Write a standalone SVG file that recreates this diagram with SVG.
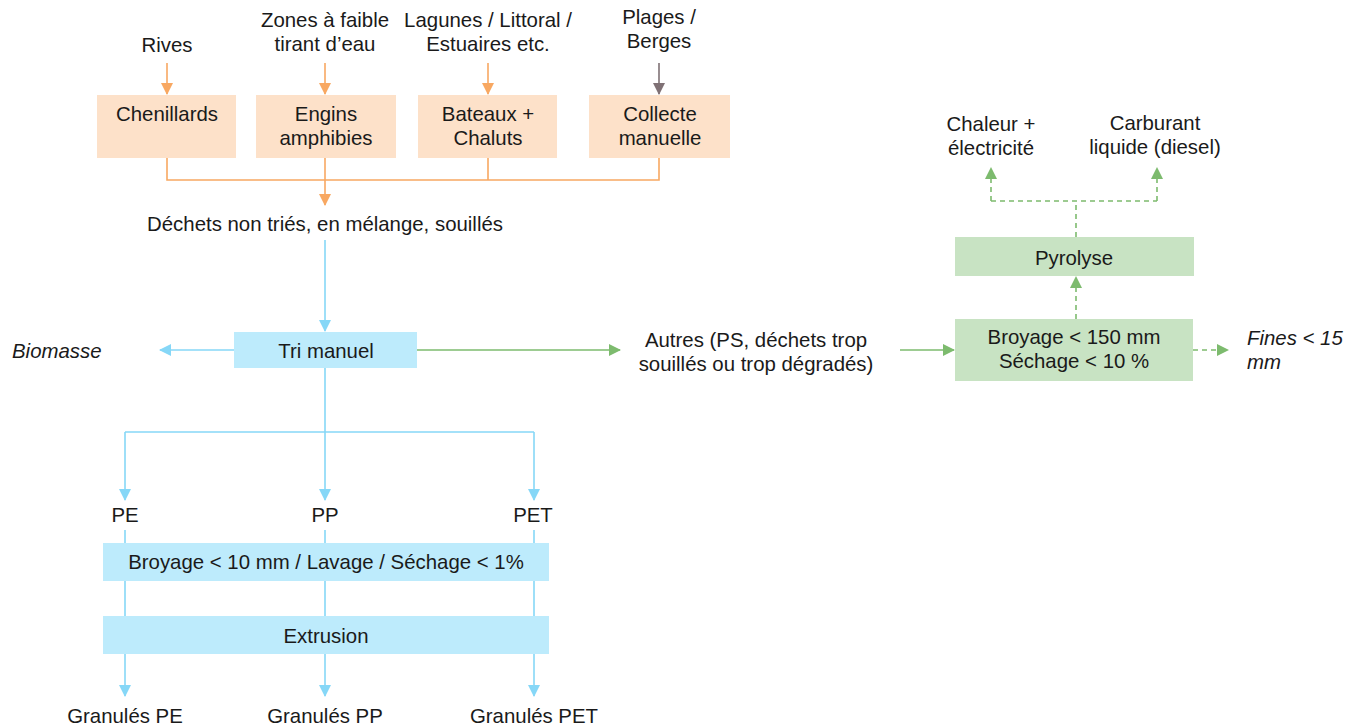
<svg xmlns="http://www.w3.org/2000/svg" width="1361" height="728" viewBox="0 0 1361 728">
<style>
text{font-family:"Liberation Sans",Arial,sans-serif;font-size:20.4px;fill:#1a1a1a;text-anchor:middle}
.it{font-style:italic;text-anchor:start}
.peach{fill:#fde1c9}
.blue{fill:#bdebfc}
.green{fill:#c8e3c3}
.lo{stroke:#f8a862;stroke-width:1.6;fill:none}
.lg{stroke:#7f7175;stroke-width:1.6;fill:none}
.lb{stroke:#86d7f7;stroke-width:1.6;fill:none}
.lgr{stroke:#7dbb6e;stroke-width:1.6;fill:none}
.ld{stroke:#7dbb6e;stroke-width:1.6;fill:none;stroke-dasharray:5 4}
</style>
<defs>
<marker id="ao" markerUnits="userSpaceOnUse" markerWidth="12" markerHeight="12" viewBox="0 0 12 12" refX="11" refY="6" orient="auto"><path d="M0,0 L12,6 L0,12 Z" fill="#f8a862"/></marker>
<marker id="ag" markerUnits="userSpaceOnUse" markerWidth="12" markerHeight="12" viewBox="0 0 12 12" refX="11" refY="6" orient="auto"><path d="M0,0 L12,6 L0,12 Z" fill="#7f7175"/></marker>
<marker id="ab" markerUnits="userSpaceOnUse" markerWidth="12" markerHeight="12" viewBox="0 0 12 12" refX="11" refY="6" orient="auto"><path d="M0,0 L12,6 L0,12 Z" fill="#86d7f7"/></marker>
<marker id="agr" markerUnits="userSpaceOnUse" markerWidth="12" markerHeight="12" viewBox="0 0 12 12" refX="11" refY="6" orient="auto"><path d="M0,0 L12,6 L0,12 Z" fill="#7dbb6e"/></marker>
</defs>

<g id="connectors">
<path class="lo" d="M167,63 V94" marker-end="url(#ao)"/>
<path class="lo" d="M325,63 V94" marker-end="url(#ao)"/>
<path class="lo" d="M488,63 V94" marker-end="url(#ao)"/>
<path class="lg" d="M659,63 V94" marker-end="url(#ag)"/>
<path class="lo" d="M167,158 V180 H659 V158 M488,158 V180"/>
<path class="lo" d="M325,158 V205" marker-end="url(#ao)"/>
<path class="lb" d="M325,240 V331" marker-end="url(#ab)"/>
<path class="lb" d="M234,350 H160" marker-end="url(#ab)"/>
<path class="lgr" d="M417,350 H620" marker-end="url(#agr)"/>
<path class="lgr" d="M900,350 H954" marker-end="url(#agr)"/>
<path class="ld" d="M1193,350 H1228" marker-end="url(#agr)"/>
<path class="ld" d="M1076,319 V277" marker-end="url(#agr)"/>
<path class="ld" d="M1076,237 V201 M991,201 H1157"/>
<path class="ld" d="M991,201 V168" marker-end="url(#agr)"/>
<path class="ld" d="M1157,201 V168" marker-end="url(#agr)"/>
<path class="lb" d="M325,368 V432 M125,432 H534"/>
<path class="lb" d="M125,432 V500" marker-end="url(#ab)"/>
<path class="lb" d="M325,432 V500" marker-end="url(#ab)"/>
<path class="lb" d="M534,432 V500" marker-end="url(#ab)"/>
<path class="lb" d="M125,530 V543 M325,530 V543 M534,530 V543 M125,581 V616 M325,581 V616 M534,581 V616"/>
<path class="lb" d="M125,654 V696" marker-end="url(#ab)"/>
<path class="lb" d="M325,654 V696" marker-end="url(#ab)"/>
<path class="lb" d="M534,654 V696" marker-end="url(#ab)"/>
</g>

<g id="lbl-rives"><text x="167" y="52">Rives</text></g>
<g id="lbl-zones"><text x="325" y="27">Zones à faible</text><text x="325" y="51">tirant d’eau</text></g>
<g id="lbl-lagunes"><text x="488" y="27">Lagunes / Littoral /</text><text x="488" y="51">Estuaires etc.</text></g>
<g id="lbl-plages"><text x="659" y="24">Plages /</text><text x="659" y="48">Berges</text></g>

<g id="n-chenillards"><rect class="peach" x="97" y="95" width="139" height="63"/><text x="167" y="121">Chenillards</text></g>
<g id="n-engins"><rect class="peach" x="256" y="95" width="140" height="63"/><text x="326" y="121">Engins</text><text x="326" y="145">amphibies</text></g>
<g id="n-bateaux"><rect class="peach" x="418" y="95" width="139" height="63"/><text x="488" y="121">Bateaux +</text><text x="488" y="145">Chaluts</text></g>
<g id="n-collecte"><rect class="peach" x="589" y="95" width="141" height="63"/><text x="660" y="121">Collecte</text><text x="660" y="145">manuelle</text></g>

<g id="lbl-dechets"><text x="325" y="231">Déchets non triés, en mélange, souillés</text></g>

<g id="n-tri"><rect class="blue" x="234" y="332" width="183" height="36"/><text x="326" y="358">Tri manuel</text></g>
<g id="lbl-biomasse"><text class="it" x="12" y="358">Biomasse</text></g>
<g id="lbl-autres"><text x="756" y="347">Autres (PS, déchets trop</text><text x="756" y="371">souillés ou trop dégradés)</text></g>

<g id="n-broyage150"><rect class="green" x="955" y="319" width="238" height="62"/><text x="1074" y="344">Broyage &lt; 150 mm</text><text x="1074" y="368">Séchage &lt; 10 %</text></g>
<g id="lbl-fines"><text class="it" x="1247" y="345">Fines &lt; 15</text><text class="it" x="1247" y="369">mm</text></g>
<g id="n-pyrolyse"><rect class="green" x="955" y="237" width="239" height="39"/><text x="1074" y="265">Pyrolyse</text></g>
<g id="lbl-chaleur"><text x="991" y="131">Chaleur +</text><text x="991" y="155">électricité</text></g>
<g id="lbl-carburant"><text x="1155" y="130">Carburant</text><text x="1155" y="154">liquide (diesel)</text></g>

<g id="lbl-pe"><text x="125" y="522">PE</text></g>
<g id="lbl-pp"><text x="325" y="522">PP</text></g>
<g id="lbl-pet"><text x="533" y="522">PET</text></g>
<g id="n-broyage10"><rect class="blue" x="103" y="543" width="446" height="38"/><text x="326" y="569">Broyage &lt; 10 mm / Lavage / Séchage &lt; 1%</text></g>
<g id="n-extrusion"><rect class="blue" x="103" y="616" width="446" height="38"/><text x="326" y="643">Extrusion</text></g>
<g id="lbl-gpe"><text x="125" y="723">Granulés PE</text></g>
<g id="lbl-gpp"><text x="325" y="723">Granulés PP</text></g>
<g id="lbl-gpet"><text x="534" y="723">Granulés PET</text></g>
</svg>
